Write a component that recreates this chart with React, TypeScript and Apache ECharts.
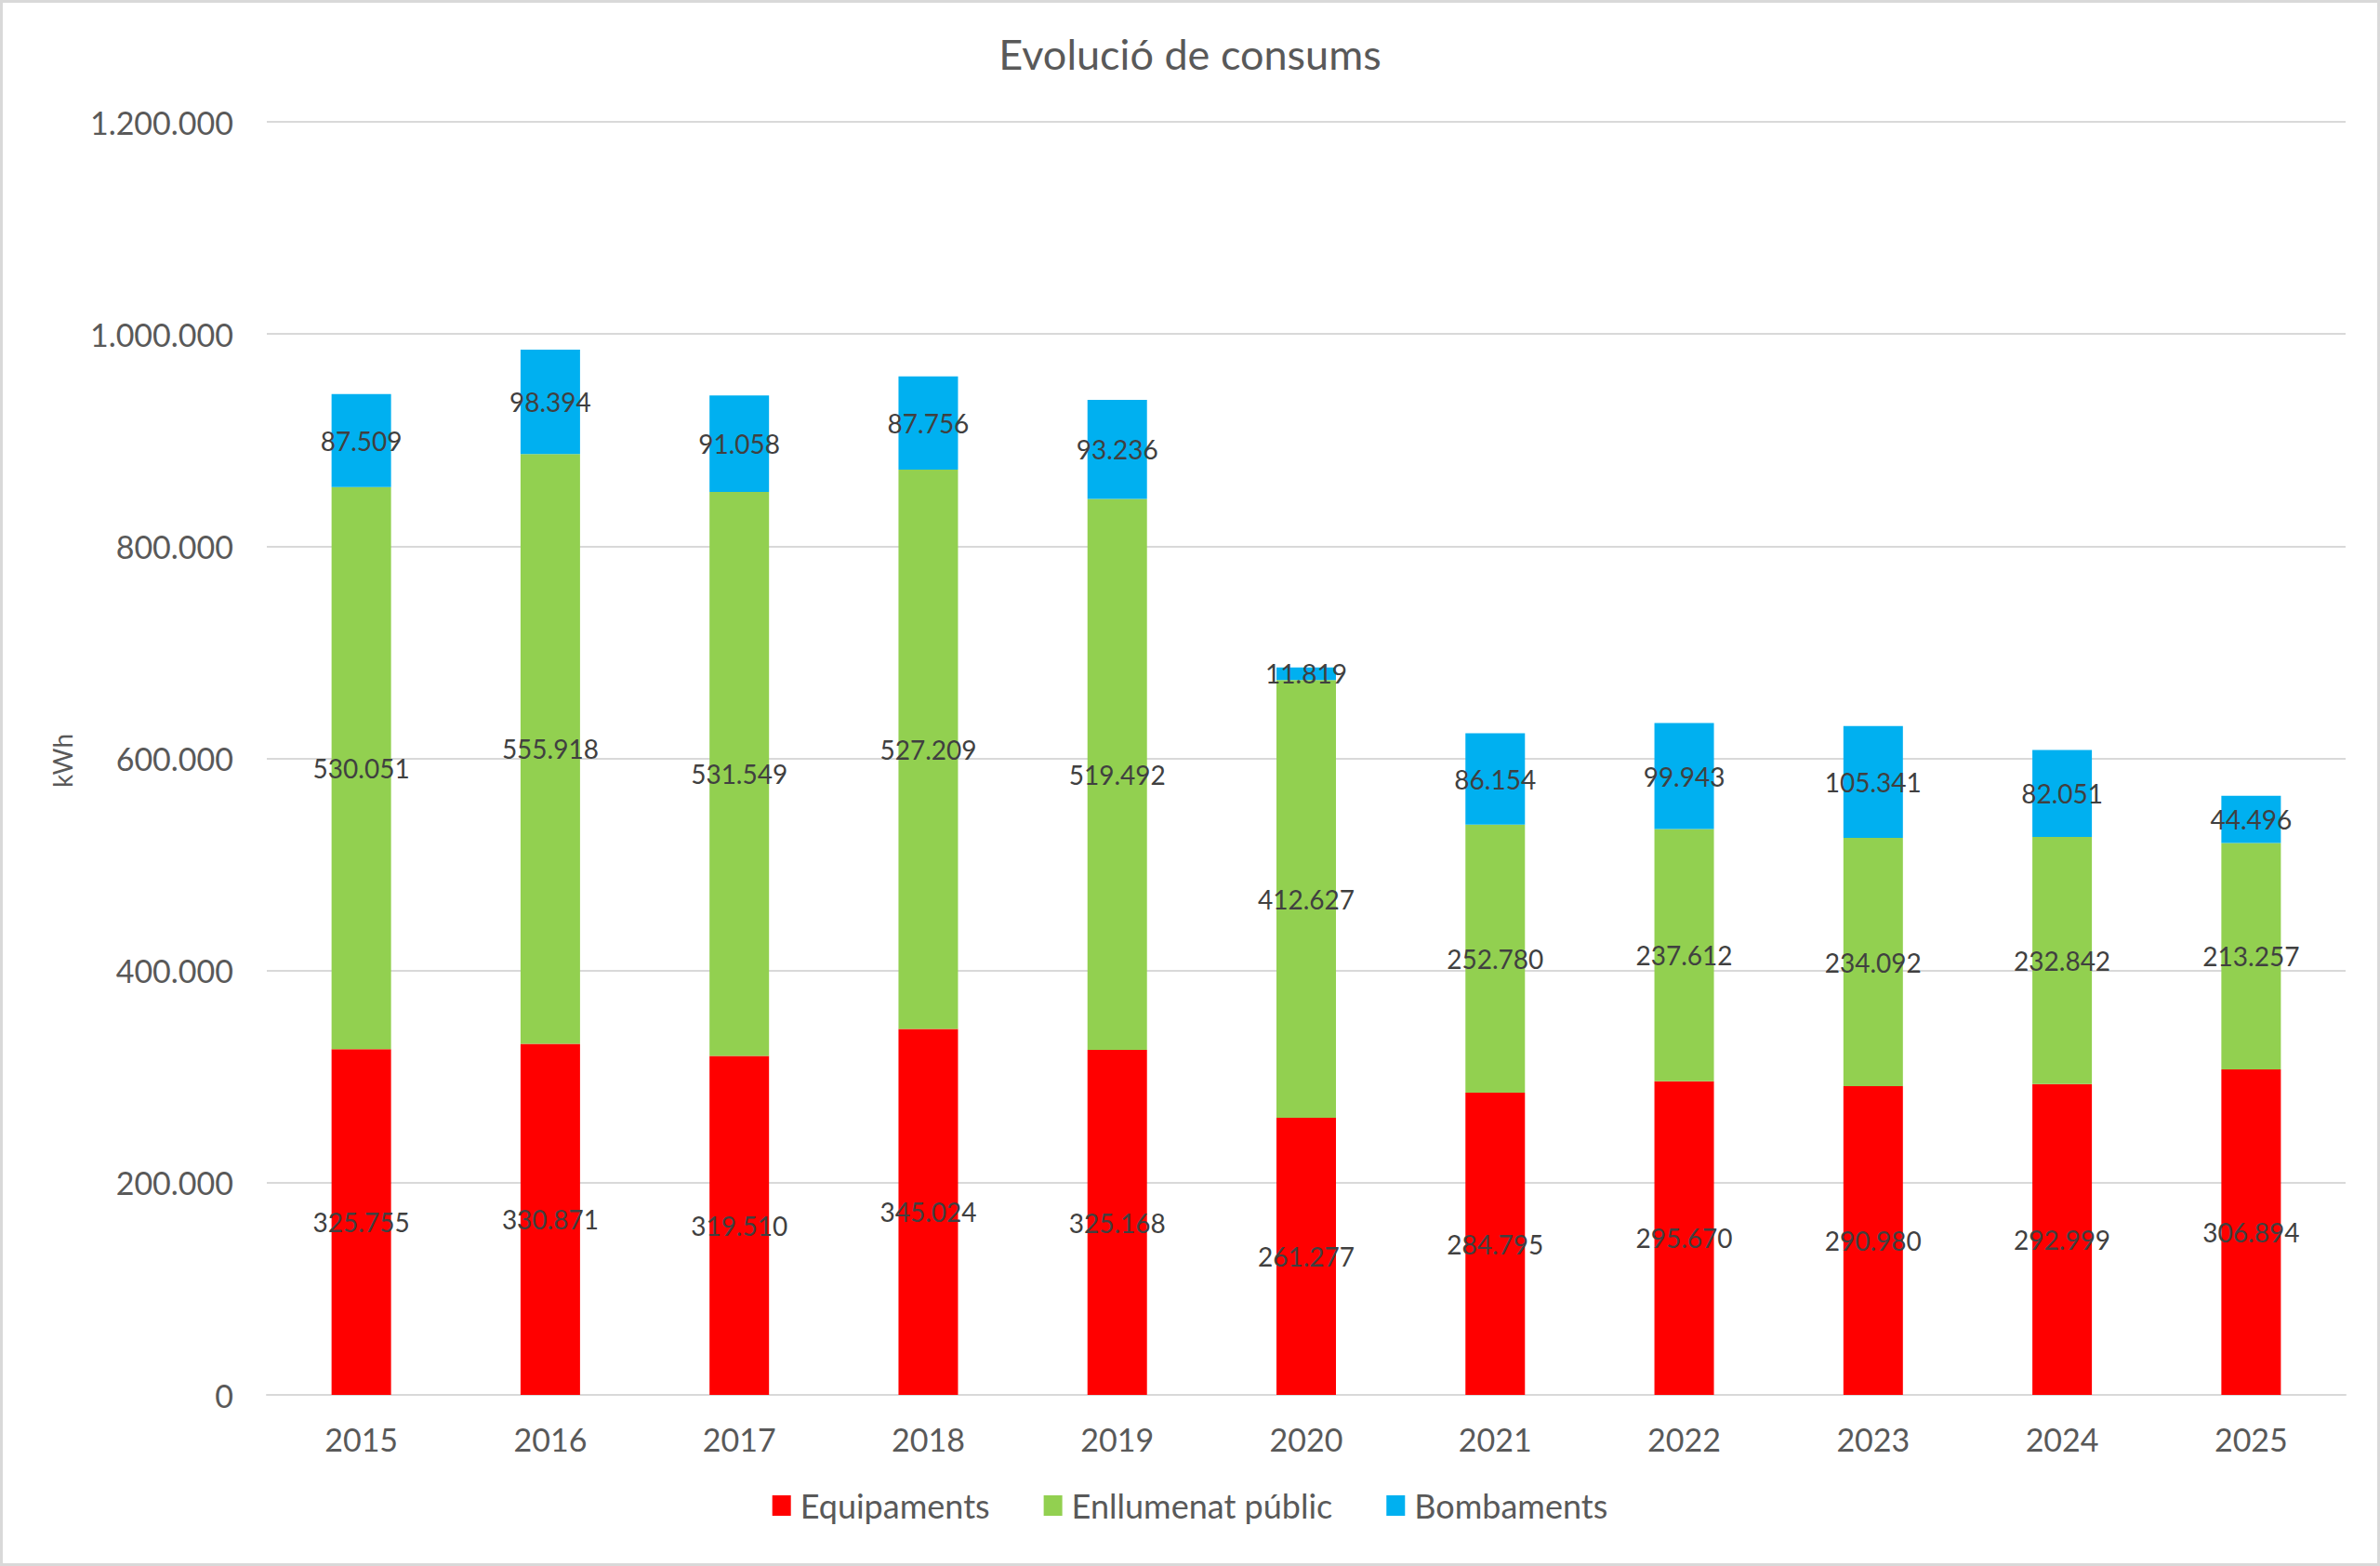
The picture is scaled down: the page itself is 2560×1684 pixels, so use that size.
import { useEffect, useRef } from "react";
import * as echarts from "echarts";

const years = ["2015", "2016", "2017", "2018", "2019", "2020", "2021", "2022", "2023", "2024", "2025"];
const equipaments = [325755, 330871, 319510, 345024, 325168, 261277, 284795, 295670, 290980, 292999, 306894];
const enllumenat = [530051, 555918, 531549, 527209, 519492, 412627, 252780, 237612, 234092, 232842, 213257];
const bombaments = [87509, 98394, 91058, 87756, 93236, 11819, 86154, 99943, 105341, 82051, 44496];

const FONT = "Lato, 'Open Sans', sans-serif";
const AXIS_TEXT = "#595959";
const LABEL_TEXT = "#404040";
const GRID = "#d9d9d9";

const fmt = (v: number) => String(v).replace(/\B(?=(\d{3})+(?!\d))/g, ".");

function buildOption(): echarts.EChartsOption {
  const series = [
    { name: "Equipaments", data: equipaments, color: "#ff0000" },
    { name: "Enllumenat públic", data: enllumenat, color: "#92d050" },
    { name: "Bombaments", data: bombaments, color: "#00b0f0" },
  ];
  return {
    animation: false,
    backgroundColor: "#ffffff",
    textStyle: { fontFamily: FONT },
    title: {
      text: "Evolució de consums",
      left: "center",
      top: 30,
      textStyle: { color: AXIS_TEXT, fontSize: 45, fontWeight: "normal", fontFamily: FONT },
    },
    legend: {
      bottom: 42,
      left: "center",
      itemWidth: 20,
      itemHeight: 22,
      itemGap: 58,
      icon: "rect",
      textStyle: { color: AXIS_TEXT, fontSize: 36, fontFamily: FONT, padding: [0, 0, 0, 5] },
    },
    grid: { left: 287, right: 37, top: 131, bottom: 184 },
    xAxis: {
      type: "category",
      data: years,
      axisTick: { show: false },
      axisLine: { lineStyle: { color: GRID, width: 2 } },
      axisLabel: { color: AXIS_TEXT, fontSize: 34, margin: 30, fontFamily: FONT },
    },
    yAxis: {
      type: "value",
      min: 0,
      max: 1200000,
      interval: 200000,
      axisLine: { show: false },
      axisTick: { show: false },
      splitLine: { lineStyle: { color: GRID, width: 2 } },
      axisLabel: { color: AXIS_TEXT, fontSize: 34, margin: 36, fontFamily: FONT, formatter: (v: number) => fmt(v) },
    },
    graphic: [
      {
        type: "text",
        x: 67,
        y: 818,
        rotation: Math.PI / 2,
        style: {
          text: "kWh",
          fill: AXIS_TEXT,
          fontSize: 28,
          fontFamily: FONT,
          align: "center",
          verticalAlign: "middle",
        },
      },
    ],
    series: series.map((s) => ({
      name: s.name,
      type: "bar" as const,
      stack: "total",
      barWidth: 64,
      data: s.data,
      itemStyle: { color: s.color },
      label: {
        show: true,
        position: "inside",
        color: LABEL_TEXT,
        fontSize: 28,
        fontFamily: FONT,
        formatter: (p: any) => fmt(p.value as number),
      },
    })),
  };
}

export default function App() {
  const el = useRef<HTMLDivElement>(null);

  useEffect(() => {
    document.body.style.margin = "0";
    if (!el.current) return;
    const chart = echarts.init(el.current, undefined, { renderer: "svg" });
    chart.setOption(buildOption());
    return () => chart.dispose();
  }, []);

  return (
    <div style={{ position: "fixed", left: 0, top: 0, width: 2560, height: 1684, background: "#fff" }}>
      <div ref={el} style={{ width: 2560, height: 1684 }} />
      <div
        style={{
          position: "absolute",
          inset: 0,
          border: "3px solid #d9d9d9",
          boxSizing: "border-box",
          pointerEvents: "none",
        }}
      />
    </div>
  );
}
